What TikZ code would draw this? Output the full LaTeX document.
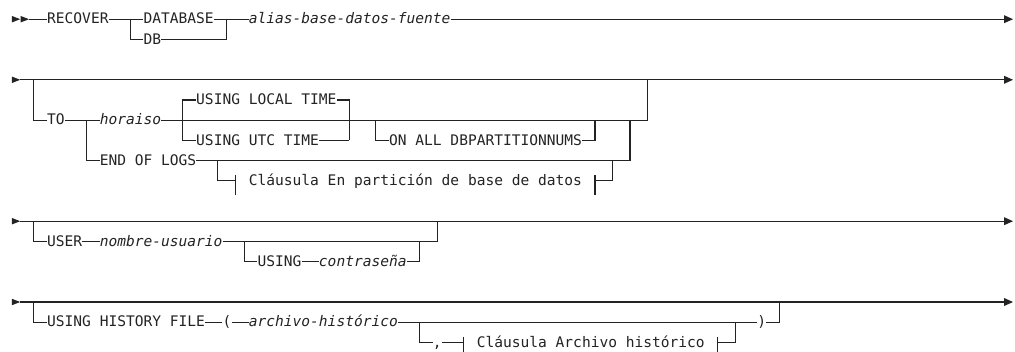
\documentclass[tikz,border=0pt]{standalone}
\usepackage{fontspec}
\newfontfamily\dm{DejaVu Sans Mono}
\definecolor{ink}{RGB}{35,35,35}
\begin{document}
\begin{tikzpicture}[x=8.768pt,y=-20.2pt,
  rail/.style={draw=ink,line width=1.1pt},
  lbl/.style={font={\dm\fontsize{14.563pt}{17pt}\selectfont}, text=ink, inner sep=0pt, text height=9.2pt, text depth=0pt, anchor=west},
  var/.style={lbl, font={\dm\fontsize{14.563pt}{17pt}\selectfont\itshape}},
  tip/.style={fill=ink},
]
\useasboundingbox (-1.357,-0.9505) rectangle (114.405,16.475);

% ---------- Row 1 ----------
\fill[tip] (0,-0.16) -- (0.95,0) -- (0,0.16) -- cycle;
\fill[tip] (1,-0.16) -- (1.95,0) -- (1,0.16) -- cycle;
\coordinate (s1) at (1.95,0);
\coordinate (e1) at (113.15,0);
\fill[tip] (113.15,-0.2) -- (114.18,0) -- (113.15,0.2) -- cycle;
\node[lbl] (recover) at (4,0) {RECOVER};
\node[lbl] (database) at (15,0) {DATABASE};
\node[lbl] (db) at (15,1) {DB};
\node[var] (alias) at (27,0) {alias-base-datos-fuente};
\coordinate (b1) at (13.5,0);
\coordinate (j1) at (24.5,0);
\draw[rail] (s1) -- (recover.west);
\draw[rail] (recover.east) -- (database.west);
\draw[rail] (database.east) -- (alias.west);
\draw[rail] (alias.east) -- (e1);
\draw[rail] (b1) |- (db.west);
\draw[rail] (db.east) -| (j1);

% ---------- Row 2 ----------
\fill[tip] (0,2.84) -- (0.95,3) -- (0,3.16) -- cycle;
\coordinate (s2) at (0.95,3);
\coordinate (e2) at (113.15,3);
\fill[tip] (113.15,2.8) -- (114.18,3) -- (113.15,3.2) -- cycle;
\draw[rail] (s2) -- (e2);
\coordinate (b2) at (2.5,3);
\coordinate (j2) at (72.5,3);
\node[lbl] (to) at (4,5) {TO};
\node[var] (horaiso) at (10,5) {horaiso};
\node[lbl] (local) at (21,4) {USING LOCAL TIME};
\node[lbl] (utc) at (21,6) {USING UTC TIME};
\node[lbl] (onall) at (43,6) {ON ALL DBPARTITIONNUMS};
\node[lbl] (eol) at (10,7) {END OF LOGS};
\node[lbl] (clause1) at (27,8) {Cláusula En partición de base de datos};
\coordinate (b3) at (8.5,5);
\coordinate (b4) at (19.5,5);
\coordinate (j4) at (38.5,6);
\coordinate (b5) at (41.5,5);
\coordinate (j5) at (66.5,5);
\coordinate (j6) at (70.5,5);
\coordinate (b6) at (23.5,7);
\coordinate (t1) at (25.5,8);
\coordinate (t2) at (66.5,8);
\coordinate (j7) at (68.5,7);
\draw[rail] (b2) |- (to.west);
\draw[rail] (to.east) -- (horaiso.west);
\draw[rail] (horaiso.east) -| (j2);
\draw[rail] (b4) |- (local.west);
\draw[rail] (local.east) -| (j4);
\draw[rail] (b4) |- (utc.west);
\draw[rail] (utc.east) -- (j4);
\draw[rail] (b5) |- (onall.west);
\draw[rail] (onall.east) -| (j5);
\draw[rail] (b3) |- (eol.west);
\draw[rail] (eol.east) -| (j6);
\draw[rail] (b6) |- (t1);
\draw[rail] ([yshift=5.9pt]t1) -- ([yshift=-14pt]t1);
\draw[rail] ([yshift=5.9pt]t2) -- ([yshift=-14pt]t2);
\draw[rail] (t2) -| (j7);

% ---------- Row 3 ----------
\fill[tip] (0,9.84) -- (0.95,10) -- (0,10.16) -- cycle;
\coordinate (s3) at (0.95,10);
\coordinate (e3) at (113.15,10);
\fill[tip] (113.15,9.8) -- (114.18,10) -- (113.15,10.2) -- cycle;
\draw[rail] (s3) -- (e3);
\coordinate (b7) at (2.5,10);
\coordinate (j8) at (48.5,10);
\coordinate (b8) at (26.5,11);
\coordinate (j9) at (46.5,11);
\node[lbl] (user) at (4,11) {USER};
\node[var] (nombre) at (10,11) {nombre-usuario};
\node[lbl] (using) at (28,12) {USING};
\node[var] (contra) at (35,12) {contraseña};
\draw[rail] (b7) |- (user.west);
\draw[rail] (user.east) -- (nombre.west);
\draw[rail] (nombre.east) -| (j8);
\draw[rail] (b8) |- (using.west);
\draw[rail] (using.east) -- (contra.west);
\draw[rail] (contra.east) -| (j9);

% ---------- Row 4 ----------
\fill[tip] (0,13.84) -- (0.95,14) -- (0,14.16) -- cycle;
\coordinate (s4) at (0.95,14);
\coordinate (e4) at (113.15,14);
\fill[tip] (113.15,13.8) -- (114.18,14) -- (113.15,14.2) -- cycle;
\draw[rail] (s4) -- (e4);
\coordinate (b9) at (2.5,14);
\coordinate (j10) at (87.5,14);
\coordinate (b10) at (46.5,15);
\coordinate (t3) at (51.5,16);
\coordinate (t4) at (80.5,16);
\coordinate (j11) at (82.5,15);
\node[lbl] (uhf) at (4,15) {USING HISTORY FILE};
\node[lbl] (lp) at (24,15) {(};
\node[var] (arch) at (27,15) {archivo-histórico};
\node[lbl] (rp) at (85,15) {)};
\node[lbl] (comma) at (48,16) {,};
\node[lbl] (clause2) at (53,16) {Cláusula Archivo histórico};
\draw[rail] (b9) |- (uhf.west);
\draw[rail] (uhf.east) -- (lp.west);
\draw[rail] (lp.east) -- (arch.west);
\draw[rail] (arch.east) -- (rp.west);
\draw[rail] (rp.east) -| (j10);
\draw[rail] (b10) |- (comma.west);
\draw[rail] (comma.east) -- (t3);
\draw[rail] ([yshift=5.9pt]t3) -- ([yshift=-14pt]t3);
\draw[rail] ([yshift=5.9pt]t4) -- ([yshift=-14pt]t4);
\draw[rail] (t4) -| (j11);
\end{tikzpicture}
\end{document}
